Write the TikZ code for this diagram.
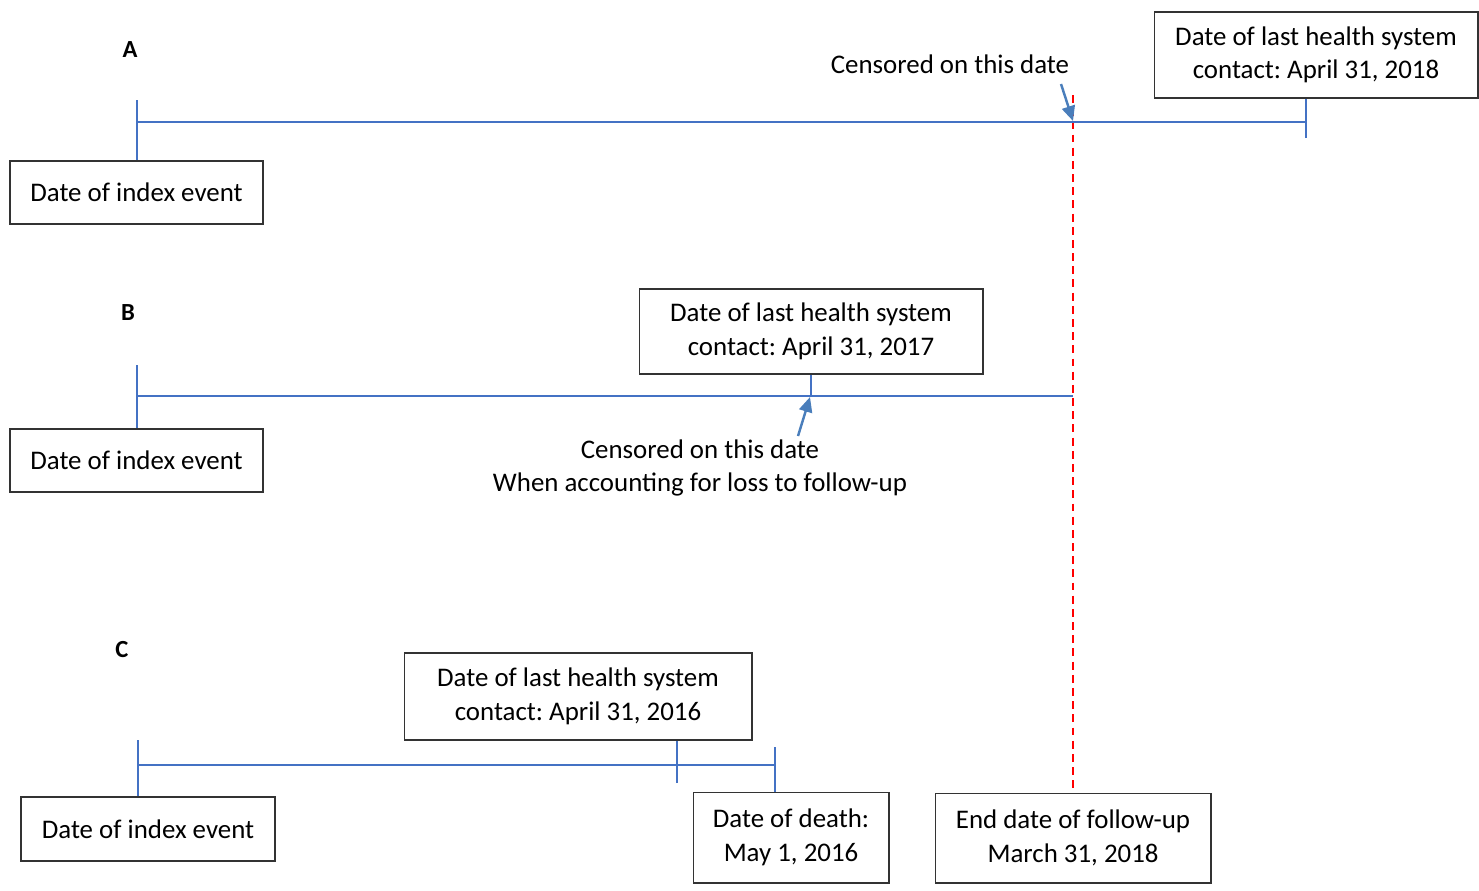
\documentclass[tikz,border=0pt]{standalone}
\usepackage{fontspec}
\setmainfont{Carlito}
\usetikzlibrary{arrows.meta}

\definecolor{tlblue}{RGB}{68,114,196}
\definecolor{arblue}{RGB}{74,126,187}

\begin{document}
\frenchspacing
\begin{tikzpicture}[x=0.02cm,y=-0.02cm,
		datebox/.style={draw=black!80,line width=0.6pt,align=center,inner sep=0pt,font=\fontsize{15.3}{19.1}\selectfont},
		tl/.style={draw=tlblue,line width=0.8pt},
		censor/.style={draw=arblue,line width=1.4pt,-{Triangle[length=8.5pt,width=7.5pt]}},
		note/.style={align=center,font=\fontsize{15.3}{18.8}\selectfont},
		panel/.style={font=\fontsize{14}{16}\selectfont\bfseries}]
	\useasboundingbox (0,0) rectangle (1479,890);

	% panel letters
	\begin{scope}[every node/.style={panel}]
		\node (labA) at (130,50) {A};
		\node (labB) at (128,313) {B};
		\node (labC) at (122,650) {C};
	\end{scope}

	% boxes
	\begin{scope}[every node/.style={datebox}]
		\node[minimum width=5.06cm,minimum height=1.26cm] (idxA) at (136.5,192.5) {Date of index event};
		\node[minimum width=6.48cm,minimum height=1.72cm] (lastA) at (1316,55) {Date of last health system\\contact: April 31, 2018};
		\node[minimum width=5.06cm,minimum height=1.26cm] (idxB) at (136.5,460.5) {Date of index event};
		\node[minimum width=6.88cm,minimum height=1.70cm] (lastB) at (811,331.5) {Date of last health system\\contact: April 31, 2017};
		\node[minimum width=5.08cm,minimum height=1.28cm] (idxC) at (148,829) {Date of index event};
		\node[minimum width=6.96cm,minimum height=1.74cm] (lastC) at (578,696.5) {Date of last health system\\contact: April 31, 2016};
		\node[minimum width=3.92cm,minimum height=1.82cm] (death) at (791,837.5) {Date of death:\\May 1, 2016};
		\node[minimum width=5.52cm,minimum height=1.80cm] (endFU) at (1073,838) {End date of follow-up\\March 31, 2018};
	\end{scope}

	% notes
	\node[note] (censA) at (950,64) {Censored on this date};
	\node[note] (censB) at (700,468) {Censored on this date\\When accounting for loss to follow-up};

	% points on the time lines
	\coordinate (aL) at (137,122);
	\coordinate (aLtop) at (137,100);
	\coordinate (aR) at (1306,122);
	\coordinate (aRbot) at (1306,138);
	\coordinate (bL) at (137,396);
	\coordinate (bLtop) at (137,365);
	\coordinate (bR) at (1073,396);
	\coordinate (bM) at (811,396);
	\coordinate (cL) at (138,765);
	\coordinate (cLtop) at (138,740);
	\coordinate (cM) at (677,765);
	\coordinate (cMbot) at (677,783);
	\coordinate (cR) at (775,765);
	\coordinate (cRtop) at (775,747);
	\coordinate (endTop) at (1073,95);
	\coordinate (arA) at (1061,84);
	\coordinate (hitA) at (1073,121);
	\coordinate (arB) at (798,436);
	\coordinate (hitB) at (810,397);

	% follow-up end
	\draw[red,line width=0.8pt,dash pattern=on 4.5pt off 3pt] (endTop) -- (endFU.north);

	% time lines
	\begin{scope}[every path/.style={tl}]
		\draw (aL) -- (aR);
		\draw (aLtop) -- (aLtop |- idxA.north);
		\draw (aRbot) -- (aRbot |- lastA.south);
		\draw (bL) -- (bR);
		\draw (bLtop) -- (bLtop |- idxB.north);
		\draw (bM) -- (lastB.south);
		\draw (cL) -- (cR);
		\draw (cLtop) -- (cLtop |- idxC.north);
		\draw (cMbot) -- (cMbot |- lastC.south);
		\draw (cRtop) -- (cRtop |- death.north);
	\end{scope}

	% censoring arrows
	\draw[censor] (arA) -- (hitA);
	\draw[censor] (arB) -- (hitB);
\end{tikzpicture}
\end{document}
